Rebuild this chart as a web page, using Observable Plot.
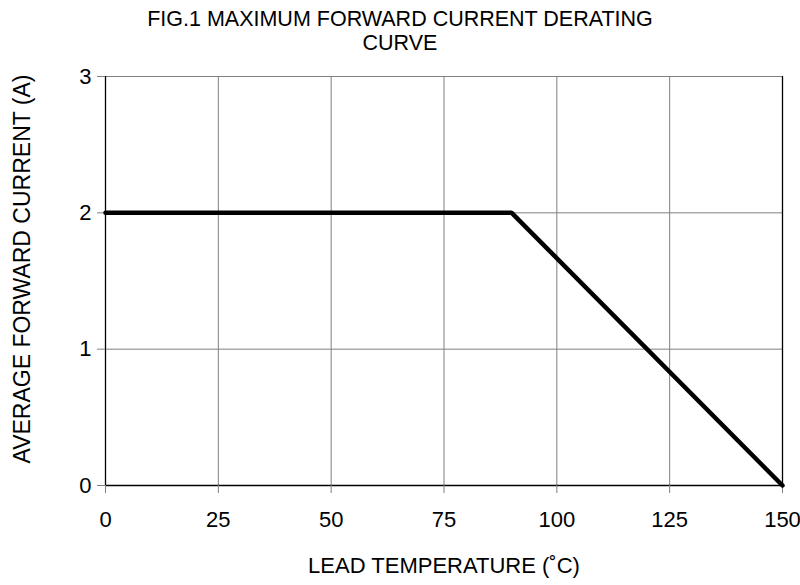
<!DOCTYPE html>
<html>
<head>
<meta charset="utf-8">
<script src="https://cdn.jsdelivr.net/npm/d3@7"></script>
<script src="https://cdn.jsdelivr.net/npm/@observablehq/plot@0.6"></script>
<style>
  html, body { margin: 0; padding: 0; background: #fff; }
  body { width: 800px; height: 585px; overflow: hidden; font-family: "Liberation Sans", Arial, sans-serif; }
  #title { height: 60px; width: 800px; text-align: center; font-size: 21.5px; line-height: 24px; color: #000; padding-top: 7px; box-sizing: border-box; }
</style>
</head>
<body>
<div id="title"><div>FIG.1 MAXIMUM FORWARD CURRENT DERATING</div><div>CURVE</div></div>
<div id="chart"></div>
<script>
const temperatures = [0, 90, 150];
const currents = [2, 2, 0];
const xTicks = [0, 25, 50, 75, 100, 125, 150];
const yTicks = [0, 1, 2, 3];
const xLabel = "LEAD TEMPERATURE (˚C)";
const yLabel = "AVERAGE FORWARD CURRENT (A)";

const data = temperatures.map((t, i) => ({t, a: currents[i]}));
const font = "'Liberation Sans', Arial, sans-serif";

const chart = Plot.plot({
  width: 800,
  height: 525,
  marginLeft: 105,
  marginRight: 18,
  marginTop: 16,
  marginBottom: 100,
  style: {fontFamily: font, fontSize: "22px", color: "#000", background: "#fff"},
  x: {domain: [0, 150], ticks: xTicks, label: null},
  y: {domain: [0, 3], ticks: yTicks, label: null},
  marks: [
    Plot.ruleX(xTicks.slice(1, -1), {stroke: "#808080", strokeWidth: 1}),
    Plot.ruleY(yTicks.slice(1), {stroke: "#808080", strokeWidth: 1}),
    Plot.ruleX([xTicks[0], xTicks[xTicks.length - 1]], {stroke: "#000", strokeWidth: 1.3}),
    Plot.ruleY([yTicks[0]], {stroke: "#000", strokeWidth: 1.3}),
    Plot.axisX(xTicks, {tickSize: 8, tickPadding: 18, stroke: "#808080", fill: "#000", fontSize: 22, tickFormat: d3.format("d"), label: null}),
    Plot.axisY(yTicks, {tickSize: 8, tickPadding: 6, stroke: "#808080", fill: "#000", fontSize: 22, tickFormat: d3.format("d"), label: null}),
    Plot.line(data, {x: "t", y: "a", stroke: "#000", strokeWidth: 4.5, strokeLinejoin: "miter"}),
    Plot.text([xLabel], {frameAnchor: "bottom", dy: 87, fontSize: 22, fill: "#000", textAnchor: "middle"}),
    Plot.text([yLabel], {frameAnchor: "left", dx: -83, dy: -12, rotate: -90, fontSize: 23, fill: "#000", textAnchor: "middle"})
  ]
});
document.getElementById("chart").appendChild(chart);
</script>
</body>
</html>
